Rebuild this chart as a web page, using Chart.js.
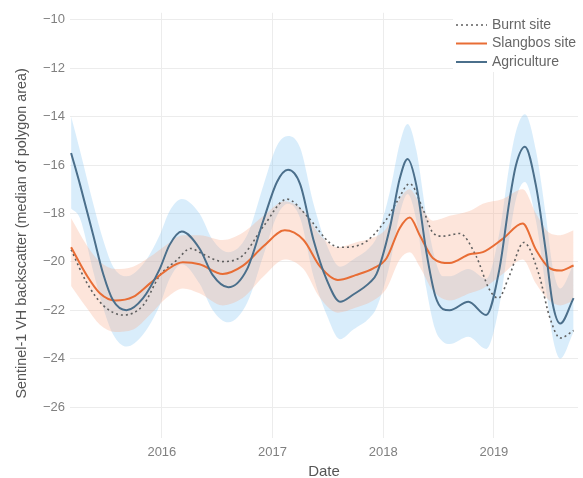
<!DOCTYPE html>
<html>
<head>
<meta charset="utf-8">
<script src="https://cdn.jsdelivr.net/npm/chart.js@4.4.1/dist/chart.umd.min.js"></script>
<style>
  body { margin: 0; background: #fff; }
  canvas { display: block; }
</style>
</head>
<body>
<canvas id="backscatterChart" width="583" height="478"></canvas>
<script>
// Sentinel-1 VH backscatter, three sites, smoothed series with confidence bands

const xTickYears = [2016, 2017, 2018, 2019];

// Agriculture (line + band, same knots)
const agriX = [2015.18, 2015.26, 2015.38, 2015.47, 2015.56, 2015.68, 2015.83, 2015.98, 2016.07, 2016.18,
    2016.34, 2016.46, 2016.60, 2016.77, 2016.92, 2017.04, 2017.14, 2017.25, 2017.37, 2017.49,
    2017.61, 2017.73, 2017.88, 2017.94, 2018.06, 2018.15, 2018.22, 2018.30, 2018.39, 2018.47,
    2018.54, 2018.60, 2018.77, 2018.93, 2019.05, 2019.14, 2019.20, 2019.28, 2019.38, 2019.47,
    2019.53, 2019.60, 2019.72];
const agriY = [-15.5, -16.8, -18.9, -20.5, -21.6, -22.0, -21.5, -20.3, -19.3, -18.75,
    -19.45, -20.55, -21.05, -20.3, -18.25, -16.7, -16.2, -16.8, -19.1, -20.75,
    -21.65, -21.35, -20.85, -20.5, -18.6, -16.55, -15.75, -16.85, -19.6, -21.4,
    -21.95, -22.0, -21.65, -22.2, -20.3, -17.5, -16.0, -15.25, -16.85, -19.6,
    -21.7, -22.55, -21.5];
const agriHi = [-14.0, -15.4, -17.6, -19.1, -20.2, -20.6, -20.1, -18.9, -17.9, -17.4,
    -18.0, -19.1, -19.6, -18.9, -16.8, -15.2, -14.8, -15.3, -17.6, -19.3,
    -20.2, -19.9, -19.4, -19.0, -17.1, -15.1, -14.3, -15.4, -18.1, -19.9,
    -20.6, -20.6, -20.3, -20.7, -18.8, -16.0, -14.6, -13.9, -15.4, -18.1,
    -20.2, -21.1, -20.1];
const agriLo = [-17.8, -18.2, -20.4, -21.9, -23.0, -23.5, -23.0, -21.8, -20.7, -20.1,
    -20.9, -22.0, -22.5, -21.7, -19.7, -18.1, -17.6, -18.2, -20.6, -22.2,
    -23.2, -22.8, -22.3, -21.9, -20.1, -18.0, -17.2, -18.3, -21.1, -22.8,
    -23.3, -23.4, -23.1, -23.6, -21.8, -19.0, -17.4, -16.7, -18.3, -21.1,
    -23.1, -24.0, -22.9];

// Slangbos site (line + band, same knots)
const slangX = [2015.18, 2015.32, 2015.44, 2015.58, 2015.74, 2015.89, 2016.04, 2016.19, 2016.34, 2016.55,
    2016.73, 2016.92, 2017.11, 2017.28, 2017.43, 2017.59, 2017.75, 2017.91, 2018.03, 2018.15,
    2018.24, 2018.33, 2018.45, 2018.60, 2018.78, 2018.90, 2019.08, 2019.26, 2019.38, 2019.50,
    2019.60, 2019.72];
const slangY = [-19.4, -20.55, -21.3, -21.6, -21.45, -20.9, -20.35, -20.02, -20.1, -20.5,
    -20.17, -19.35, -18.7, -19.1, -20.2, -20.75, -20.55, -20.27, -19.85, -18.6,
    -18.17, -18.9, -19.85, -20.05, -19.69, -19.6, -19.05, -18.42, -19.5, -20.25,
    -20.36, -20.15];
const slangHi = [-18.2, -19.3, -20.0, -20.3, -20.2, -19.8, -19.3, -18.9, -18.9, -19.1,
    -18.8, -18.1, -17.5, -17.9, -18.9, -19.4, -19.2, -19.0, -18.6, -17.4,
    -17.0, -17.6, -18.3, -18.1, -17.9, -17.6, -17.4, -17.0, -18.0, -18.8,
    -18.9, -18.7];
const slangLo = [-21.0, -21.9, -22.6, -22.9, -22.8, -22.2, -21.5, -21.1, -21.3, -21.8,
    -21.5, -20.6, -19.9, -20.3, -21.5, -22.1, -21.9, -21.6, -21.1, -19.9,
    -19.6, -20.2, -21.2, -21.6, -21.3, -21.1, -20.5, -19.9, -20.9, -21.6,
    -21.8, -21.6];

// Burnt site (line only)
const burntX = [2015.18, 2015.32, 2015.47, 2015.65, 2015.83, 2015.98, 2016.13, 2016.26, 2016.37, 2016.55,
    2016.73, 2016.92, 2017.13, 2017.31, 2017.52, 2017.61, 2017.79, 2018.03, 2018.12, 2018.24,
    2018.36, 2018.45, 2018.54, 2018.69, 2018.84, 2018.96, 2019.04, 2019.14, 2019.27, 2019.41,
    2019.50, 2019.60, 2019.72];
const burntY = [-19.5, -20.85, -21.8, -22.2, -21.8, -20.57, -19.95, -19.45, -19.68, -19.99,
    -19.74, -18.52, -17.41, -18.1, -19.23, -19.4, -19.3, -18.24, -17.55, -16.77,
    -17.83, -18.8, -18.94, -18.83, -19.77, -21.15, -21.5, -20.57, -19.2, -20.57,
    -22.23, -23.15, -22.84];

function pts(xs, ys) {
    return xs.map(function(x, i) { return { x: x, y: ys[i] }; });
}

const FONT = "'Liberation Sans', Arial, sans-serif";

// legend drawn inside the plot, top right, on a white box
const insideLegend = {
    id: 'insideLegend',
    afterDraw: function(chart) {
        const ctx = chart.ctx;
        const items = chart.data.datasets.filter(function(d) { return d.inLegend; });
        ctx.save();
        ctx.fillStyle = '#ffffff';
        ctx.fillRect(453, 8, 130, 64);
        ctx.font = '14px ' + FONT;
        ctx.textBaseline = 'middle';
        items.forEach(function(d, i) {
            const y = 25 + i * 18.5;
            ctx.beginPath();
            ctx.setLineDash(d.borderDash || []);
            ctx.strokeStyle = d.borderColor;
            ctx.lineWidth = d.borderWidth;
            ctx.moveTo(456, y);
            ctx.lineTo(487, y);
            ctx.stroke();
            ctx.setLineDash([]);
            ctx.fillStyle = '#666';
            ctx.fillText(d.label, 492, y);
        });
        ctx.restore();
    }
};

const lineBase = { pointRadius: 0, cubicInterpolationMode: 'monotone', fill: false };

new Chart(document.getElementById('backscatterChart').getContext('2d'), {
    type: 'line',
    data: {
        datasets: [
            Object.assign({}, lineBase, { label: 'agri upper', data: pts(agriX, agriHi), borderWidth: 0,
                borderColor: 'rgba(0,0,0,0)', backgroundColor: 'rgba(140,200,242,0.33)', fill: '+1', order: 10 }),
            Object.assign({}, lineBase, { label: 'agri lower', data: pts(agriX, agriLo), borderWidth: 0,
                borderColor: 'rgba(0,0,0,0)', order: 11 }),
            Object.assign({}, lineBase, { label: 'slang upper', data: pts(slangX, slangHi), borderWidth: 0,
                borderColor: 'rgba(0,0,0,0)', backgroundColor: 'rgba(250,170,135,0.3)', fill: '+1', order: 8 }),
            Object.assign({}, lineBase, { label: 'slang lower', data: pts(slangX, slangLo), borderWidth: 0,
                borderColor: 'rgba(0,0,0,0)', order: 9 }),
            Object.assign({}, lineBase, { label: 'Burnt site', data: pts(burntX, burntY), borderColor: '#5f5f5f',
                borderWidth: 1.6, borderDash: [2, 3], inLegend: true, order: 3 }),
            Object.assign({}, lineBase, { label: 'Slangbos site', data: pts(slangX, slangY), borderColor: '#e86d35',
                borderWidth: 2, inLegend: true, order: 2 }),
            Object.assign({}, lineBase, { label: 'Agriculture', data: pts(agriX, agriY), borderColor: '#4b6f8b',
                borderWidth: 2, inLegend: true, order: 1 })
        ]
    },
    options: {
        responsive: false,
        animation: false,
        devicePixelRatio: 1,
        layout: { padding: { left: 0, right: 5, top: 5, bottom: 0 } },
        plugins: { legend: { display: false }, tooltip: { enabled: false } },
        scales: {
            x: {
                type: 'linear',
                min: 2015.17,
                max: 2019.76,
                afterFit: function(s) { s.height = 40; },
                afterBuildTicks: function(s) {
                    s.ticks = xTickYears.map(function(v) { return { value: v }; });
                },
                grid: { color: '#ececec', drawTicks: false },
                border: { display: false },
                ticks: { padding: 7, color: '#808080', font: { family: FONT, size: 13 },
                    callback: function(v) { return String(v); } },
                title: { display: true, text: 'Date', color: '#555',
                    font: { family: FONT, size: 15, lineHeight: 0.8 }, padding: { top: 0, bottom: 0 } }
            },
            y: {
                min: -27.28,
                max: -9.71,
                afterFit: function(s) { s.width = 70; },
                grid: { color: '#ececec', drawTicks: false },
                border: { display: false },
                ticks: { stepSize: 2, includeBounds: false, padding: 5, color: '#808080',
                    font: { family: FONT, size: 13 },
                    callback: function(v) { return v < 0 ? '\u2212' + Math.abs(v) : String(v); } },
                title: { display: true,
                    text: 'Sentinel-1 VH backscatter (median of polygon area)\u00a0\u00a0\u00a0\u00a0',
                    color: '#555', font: { family: FONT, size: 14.4 }, padding: { top: 13, bottom: 0 } }
            }
        }
    },
    plugins: [insideLegend]
});
</script>
</body>
</html>
